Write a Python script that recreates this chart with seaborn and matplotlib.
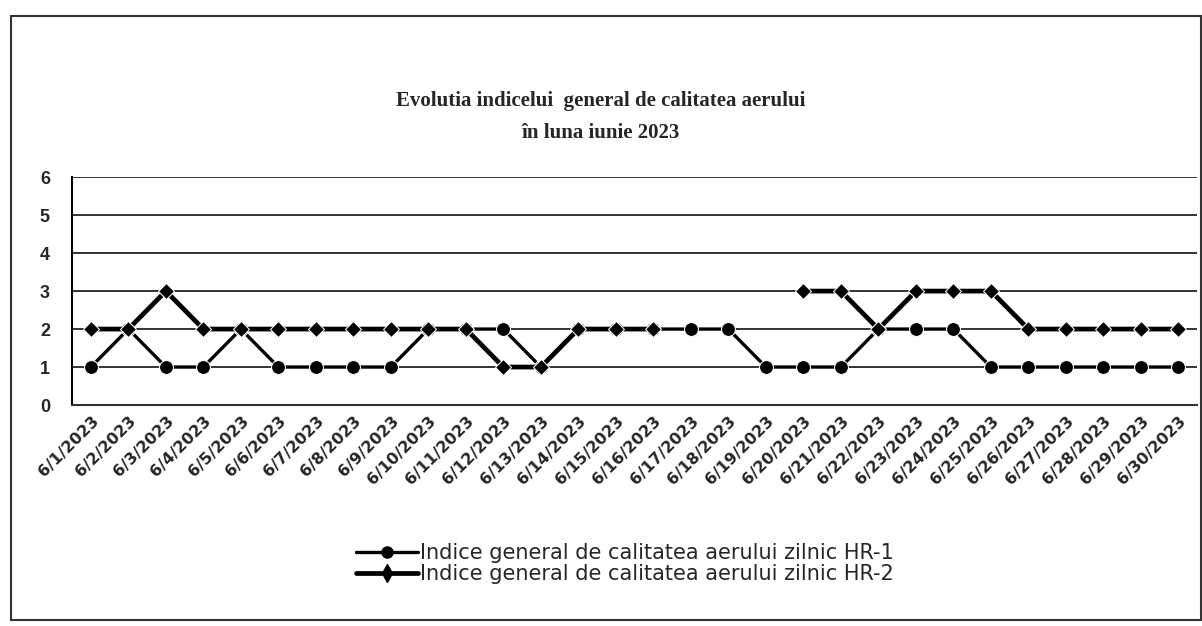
import numpy as np
import pandas as pd
import seaborn as sns
import matplotlib.pyplot as plt
from matplotlib.lines import Line2D
from matplotlib.patches import Rectangle

# ----- Data -----
days = [f"6/{d}/2023" for d in range(1, 31)]
hr1 = [1, 2, 1, 1, 2, 1, 1, 1, 1, 2, 2, 2, 1, 2, 2,
       2, 2, 2, 1, 1, 1, 2, 2, 2, 1, 1, 1, 1, 1, 1]
hr2 = [2, 2, 3, 2, 2, 2, 2, 2, 2, 2, 2, 1, 1, 2, 2,
       2, np.nan, np.nan, np.nan, 3, 3, 2, 3, 3, 3, 2, 2, 2, 2, 2]
label1 = "Indice general de calitatea aerului zilnic HR-1"
label2 = "Indice general de calitatea aerului zilnic HR-2"
title = "Evolutia indicelui  general de calitatea aerului\nîn luna iunie 2023"


def to_long(values, name):
    d = pd.DataFrame({"x": range(len(days)), "y": values})
    d["seg"] = d["y"].isna().cumsum()
    d["serie"] = name
    return d.dropna()


df = pd.concat([to_long(hr1, label1), to_long(hr2, label2)], ignore_index=True)

# ----- Plot -----
sns.set_style("white")
fig = plt.figure(figsize=(12.02, 6.26), dpi=100)
ax = fig.add_axes([0.06, 0.353, 0.936, 0.364])

sns.lineplot(data=df[df.serie == label1], x="x", y="y", units="seg", estimator=None,
             color="black", lw=2.4, marker="o", markersize=10, ax=ax)
sns.lineplot(data=df[df.serie == label2], x="x", y="y", units="seg", estimator=None,
             color="black", lw=3.4, marker="D", markersize=8.5, ax=ax)

ax.set_xlim(-0.5, len(days) - 0.5)
ax.set_ylim(0, 6)
ax.set_yticks(range(0, 7))
ax.set_yticklabels([str(v) for v in range(0, 7)], fontsize=13, fontweight="bold",
                   family="Liberation Sans")
ax.set_xticks(range(len(days)))
ax.set_xticklabels(days, rotation=45, ha="right", rotation_mode="anchor",
                   fontsize=11.5, fontweight="bold", family="Liberation Sans Narrow")
ax.set_xticks(np.arange(-0.5, len(days), 1), minor=True)
ax.tick_params(axis="x", which="major", length=0, pad=6)
ax.tick_params(axis="x", which="minor", length=5, width=1, color="#333333", direction="out")
ax.tick_params(axis="y", length=8, width=1.2, color="#333333", direction="out", pad=8)
ax.grid(axis="y", color="#333333", lw=1.4)
ax.set_xlabel("")
ax.set_ylabel("")
for s in ["top", "right"]:
    ax.spines[s].set_visible(False)
ax.spines["left"].set_color("black")
ax.spines["left"].set_linewidth(1.5)
ax.spines["bottom"].set_color("#333333")
ax.spines["bottom"].set_linewidth(1.5)
if ax.get_legend():
    ax.get_legend().remove()

fig.text(0.50, 0.813, title, ha="center", va="center", fontsize=15, fontweight="bold",
         family="Liberation Serif", linespacing=1.75)

handles = [Line2D([], [], color="black", lw=2.4, marker="o", markersize=8),
           Line2D([], [], color="black", lw=3.4, marker="d", markersize=9)]
fig.legend(handles, [label1, label2], loc="center", bbox_to_anchor=(0.52, 0.1),
           frameon=False, handlelength=3.0, handletextpad=0.1, labelspacing=0.05,
           prop={"family": "Liberation Sans Narrow", "size": 15})

fig.patches.append(Rectangle((0.009, 0.01), 0.99, 0.965, transform=fig.transFigure,
                             fill=False, ec="#333333", lw=1.5))

fig.savefig("out.png", dpi=100)
